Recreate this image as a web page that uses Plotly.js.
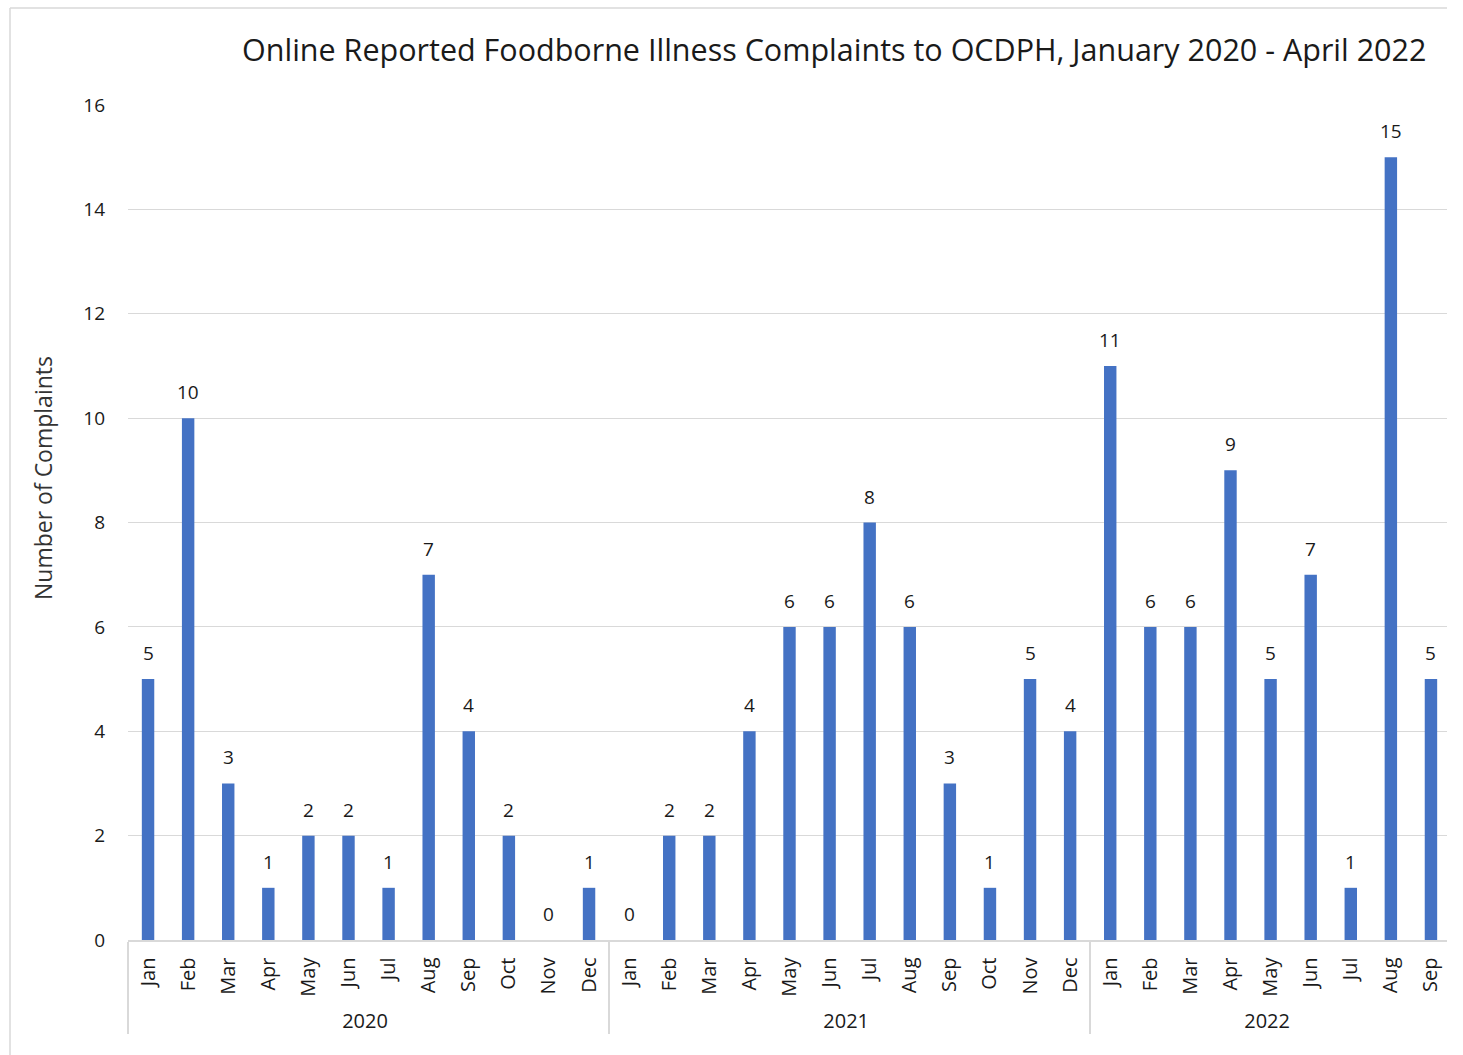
<!DOCTYPE html>
<html>
<head>
<meta charset="utf-8">
<script src="https://cdn.plot.ly/plotly-3.0.1.min.js"></script>
<style>
  html, body { margin: 0; padding: 0; background: #fff; }
  #clip { position: absolute; left: 0; top: 0; width: 1447px; height: 1055px; overflow: hidden; }
  #chart { width: 1463px; height: 1055px; }
</style>
</head>
<body>
<div id="clip"><div id="chart"></div></div>
<script>
const titleText = "Online Reported Foodborne Illness Complaints to OCDPH, January 2020 - April 2022";
const yTitle = "Number of Complaints";
const years = ["2020", "2021", "2022"];
const monthNames = ["Jan","Feb","Mar","Apr","May","Jun","Jul","Aug","Sep","Oct","Nov","Dec"];
const values2020 = [5, 10, 3, 1, 2, 2, 1, 7, 4, 2, 0, 1];
const values2021 = [0, 2, 2, 4, 6, 6, 8, 6, 3, 1, 5, 4];
const values2022 = [11, 6, 6, 9, 5, 7, 1, 15, 5];
const yTicks = [0, 2, 4, 6, 8, 10, 12, 14, 16];

const seriesByYear = [values2020, values2021, values2022];
const xYear = [], xMonth = [], yVals = [];
seriesByYear.forEach((vals, yi) => {
  vals.forEach((v, mi) => {
    xYear.push(years[yi]);
    xMonth.push(monthNames[mi]);
    yVals.push(v);
  });
});

const FONT = 'Open Sans, sans-serif';
const TXT = '#1a1a1a';

// plot area in px
const W = 1463, H = 1055;
const L = 128, R = 12, T = 105, B = 115;
const pw = W - L - R, ph = H - T - B;
const px2x = p => (p - L) / pw;
const py2y = p => (H - B - p) / ph;

const annotations = yVals.map((v, i) => ({
  x: i, y: v, xref: 'x', yref: 'y',
  text: String(v), showarrow: false,
  yshift: 26, yanchor: 'middle', xanchor: 'center',
  font: { family: FONT, size: 19, color: TXT }
}));
annotations.push({
  xref: 'paper', yref: 'paper', x: px2x(43), y: py2y(478),
  xanchor: 'center', yanchor: 'middle', textangle: -90,
  text: yTitle, showarrow: false,
  font: { family: FONT, size: 23, color: '#333333' }
});

const trace = {
  type: 'bar',
  x: [xYear, xMonth],
  y: yVals,
  marker: { color: '#4472C4' },
  hoverinfo: 'y'
};

const layout = {
  width: W, height: H,
  margin: { l: L, r: R, t: T, b: B, pad: 0 },
  paper_bgcolor: '#ffffff',
  plot_bgcolor: '#ffffff',
  bargap: 0.69,
  showlegend: false,
  font: { family: FONT, color: TXT },
  title: {
    text: titleText,
    font: { family: FONT, size: 30.5, color: TXT },
    xref: 'container', x: 242 / W, xanchor: 'left',
    yref: 'container', y: 1 - 50 / H, yanchor: 'middle'
  },
  xaxis: {
    type: 'multicategory',
    showgrid: false,
    showline: true, linecolor: '#d9d9d9', linewidth: 1.5,
    ticks: '',
    tickangle: -90,
    ticklabelstandoff: 8,
    tickfont: { family: FONT, size: 20, color: TXT },
    showdividers: true, dividercolor: '#d9d9d9', dividerwidth: 1.5,
    zeroline: false
  },
  yaxis: {
    range: [0, 16],
    tickvals: yTicks,
    ticktext: yTicks.map(String),
    showgrid: true, gridcolor: '#d9d9d9', gridwidth: 1.2,
    zeroline: false,
    showline: false,
    ticks: '',
    ticklabelstandoff: 22,
    tickfont: { family: FONT, size: 19, color: TXT }
  },
  annotations: annotations,
  shapes: [
    { type: 'line', xref: 'paper', yref: 'paper', x0: px2x(10), x1: px2x(10), y0: py2y(8), y1: py2y(1060),
      line: { color: '#d9d9d9', width: 1.5 } },
    { type: 'line', xref: 'paper', yref: 'paper', x0: px2x(10), x1: px2x(1470), y0: py2y(8), y1: py2y(8),
      line: { color: '#d9d9d9', width: 1.5 } }
  ]
};

Plotly.newPlot('chart', [trace], layout, { displayModeBar: false, staticPlot: true });
</script>
</body>
</html>
